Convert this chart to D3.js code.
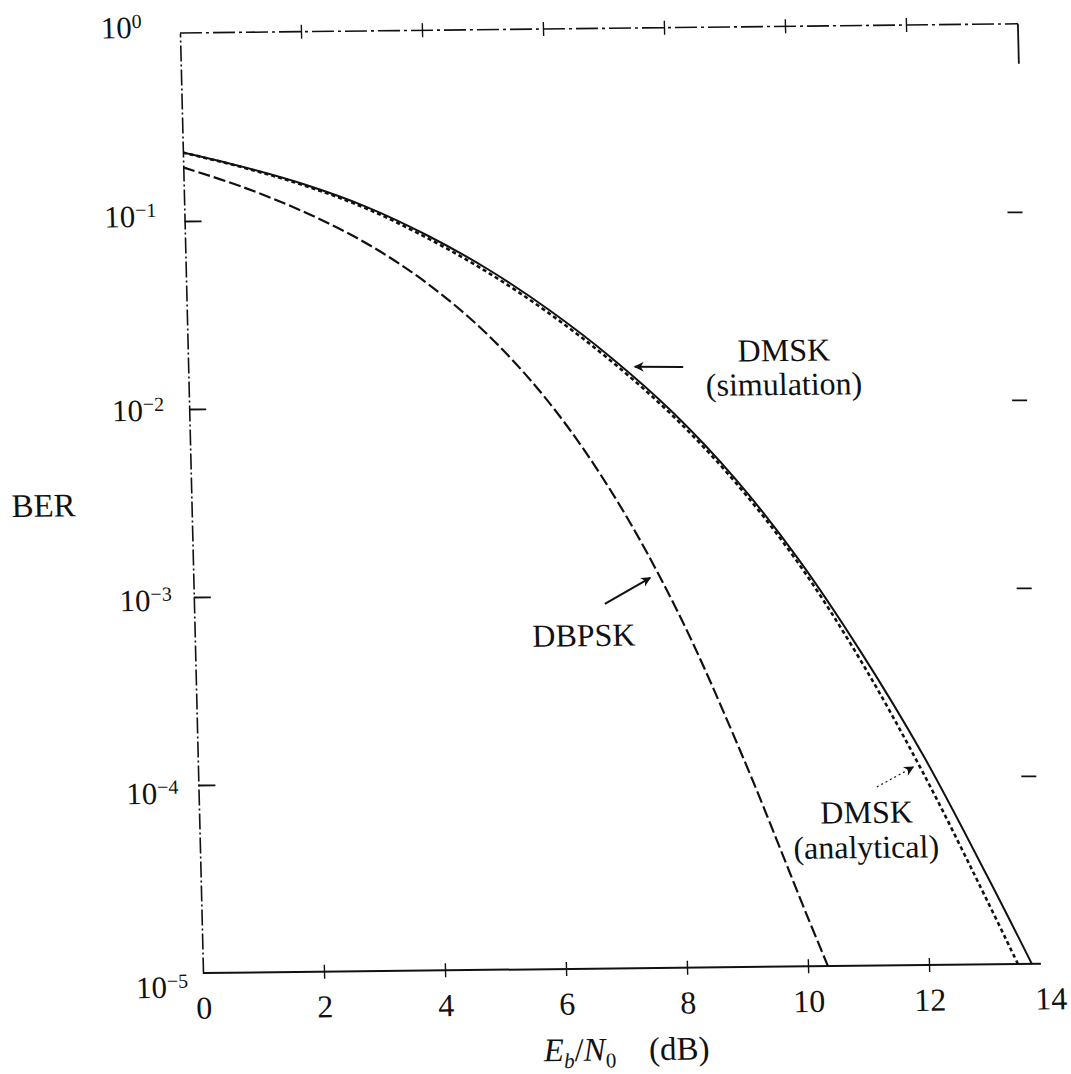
<!DOCTYPE html>
<html>
<head>
<meta charset="utf-8">
<script src="https://cdn.jsdelivr.net/npm/d3@7"></script>
<style>
  body { margin: 0; background: #fff; }
  text { font-family: "Liberation Serif", "DejaVu Serif", serif; fill: #111; }
</style>
</head>
<body>
<svg id="chart" width="1071" height="1074"></svg>
<script>
// values (BER vs Eb/N0 in dB)
var ebnoDbpsk = [0, 1, 2, 3, 4, 5, 6, 7, 8, 9, 10, 10.33];
var berDbpsk = [0.1928, 0.1493, 0.1091, 0.0741, 0.0447, 0.0232, 0.00982, 0.0032, 7.71e-4, 1.33e-4, 1.88e-5, 1.0e-5];

var ebnoDmskSim = [0, 1, 2, 3, 4, 5, 6, 7, 8, 9, 10, 11, 12, 13, 13.7];
var berDmskSim = [0.2312, 0.1919, 0.1538, 0.1164, 0.0813, 0.0530, 0.0318, 0.01766, 0.00893, 0.00394, 0.001476, 4.67e-4, 1.285e-4, 2.94e-5, 1.0e-5];

var ebnoDmskAna = [0, 1, 2, 3, 4, 5, 6, 7, 8, 9, 10, 11, 12, 13, 13.47];
var berDmskAna = [0.2312, 0.1905, 0.1517, 0.1140, 0.0787, 0.0509, 0.0305, 0.0169, 0.00855, 0.00377, 0.0014, 4.17e-4, 1.023e-4, 2.14e-5, 1.0e-5];

var xTicks = [0, 2, 4, 6, 8, 10, 12, 14];
var yTicks = [1e-5, 1e-4, 1e-3, 1e-2, 1e-1, 1];
var yTickExps = ["\u22125", "\u22124", "\u22123", "\u22122", "\u22121", "0"];

var noteText = ["DMSK", "(simulation)", "DBPSK", "DMSK", "(analytical)"];
var noteX = [9.85, 9.84, 6.43, 11.03, 11.01];
var noteBer = [0.0166, 0.01096, 5.2e-4, 5.74e-5, 3.74e-5];

// arrows: [fromX, fromBer, toX, toBer]
var arrows = [
  [8.18, 0.01567, 7.38, 0.01578],
  [6.79, 8.69e-4, 7.55, 1.19e-3],
  [11.21, 8.91e-5, 11.82, 1.132e-4]
];

// layout of the scanned page (it is a little skewed)
var settings = { frameRight: 13.85, width: 847, height: 940 };
var yLabelGap = [15, 20, 22, 25, 28, 38];
var yLabelDrop = [24, 18, 13, 11, 5, 4];

var svg = d3.select("#chart");
svg.append("rect").attr("width", 1071).attr("height", 1074).attr("fill", "#fff");

var g = svg.append("g").attr("transform", "matrix(1,-0.011,0.0245,1,203,973)");

var x = d3.scaleLinear().domain([0, 14]).range([0, settings.width]);
var y = d3.scaleLog().domain([1e-5, 1]).range([0, -settings.height]);

var defs = svg.append("defs");
defs.append("marker").attr("id", "head")
  .attr("viewBox", "0 0 10 10").attr("refX", 9).attr("refY", 5)
  .attr("markerWidth", 14).attr("markerHeight", 10).attr("markerUnits", "userSpaceOnUse")
  .attr("orient", "auto")
  .append("path").attr("d", "M0,0 L10,5 L0,10 L3,5 Z").attr("fill", "#111");
defs.append("clipPath").attr("id", "plotclip")
  .append("rect").attr("x", 0).attr("y", -settings.height - 20)
  .attr("width", x(settings.frameRight)).attr("height", settings.height + 20);

// left axis
var yAxis = d3.axisLeft(y).tickValues(yTicks).tickSize(-17).tickSizeOuter(0);
var yG = g.append("g").call(yAxis);
yG.select(".domain").attr("stroke", "#111").attr("stroke-width", 1.6).attr("stroke-dasharray", "16,3,2,3");
yG.selectAll(".tick line").attr("stroke", "#111").attr("stroke-width", 1.8)
  .filter(function(d) { return d === 1e-5 || d === 1; }).remove();
yG.selectAll(".tick text").each(function(d, i) {
  var t = d3.select(this).text(null)
    .attr("font-size", "31px")
    .attr("x", -yLabelGap[i])
    .attr("dy", null)
    .attr("y", yLabelDrop[i]);
  t.append("tspan").text("10");
  t.append("tspan").attr("dy", "-0.5em").attr("font-size", "20px").text(yTickExps[i]);
});

// bottom axis
var xAxis = d3.axisBottom(x).tickValues(xTicks).tickSize(7).tickSizeOuter(0).tickPadding(16);
var xG = g.append("g").call(xAxis);
xG.select(".domain").remove();
xG.selectAll(".tick line").attr("y1", -7).attr("stroke", "#111").attr("stroke-width", 1.4)
  .filter(function(d) { return d === 0 || d === 14; }).remove();
xG.selectAll(".tick text").attr("font-size", "32px");

// top and right ticks
var topG = g.append("g").attr("transform", "translate(0," + y(1) + ")")
  .call(d3.axisTop(x).tickValues([2, 4, 6, 8, 10, 12]).tickSize(7).tickFormat(""));
topG.select(".domain").remove();
topG.selectAll(".tick line").attr("y1", 7).attr("stroke", "#111").attr("stroke-width", 1.4);

var rightG = g.append("g").attr("transform", "translate(" + x(settings.frameRight) + ",0)")
  .call(d3.axisRight(y).tickValues([1e-4, 1e-3, 1e-2, 1e-1]).tickSize(-15).tickFormat(""));
rightG.select(".domain").remove();
rightG.selectAll(".tick line").attr("stroke", "#111").attr("stroke-width", 1.8);

g.append("line")
  .attr("x1", x(0)).attr("x2", x(settings.frameRight))
  .attr("y1", y(1e-5)).attr("y2", y(1e-5))
  .attr("stroke", "#111").attr("stroke-width", 2);
g.append("line")
  .attr("x1", x(0)).attr("x2", x(settings.frameRight))
  .attr("y1", y(1)).attr("y2", y(1))
  .attr("stroke", "#111").attr("stroke-width", 1.6).attr("stroke-dasharray", "22,4,3,4");
g.append("line")
  .attr("x1", x(settings.frameRight)).attr("x2", x(settings.frameRight))
  .attr("y1", y(1)).attr("y2", y(1) + 40)
  .attr("stroke", "#111").attr("stroke-width", 1.8);

// curves
var line = d3.line()
  .x(function(d) { return x(d[0]); })
  .y(function(d) { return y(d[1]); })
  .curve(d3.curveCatmullRom.alpha(0.5));

var curves = g.append("g").attr("clip-path", "url(#plotclip)").attr("fill", "none").attr("stroke", "#111");
curves.append("path")
  .attr("d", line(d3.zip(ebnoDbpsk, berDbpsk)))
  .attr("stroke-width", 2.2).attr("stroke-dasharray", "12,4");
curves.append("path")
  .attr("d", line(d3.zip(ebnoDmskAna, berDmskAna)))
  .attr("stroke-width", 2.6).attr("stroke-dasharray", "4,3");
curves.append("path")
  .attr("d", line(d3.zip(ebnoDmskSim, berDmskSim)))
  .attr("stroke-width", 2);

// annotations
g.selectAll(".note").data(noteText).enter().append("text")
  .attr("class", "note")
  .attr("x", function(d, i) { return x(noteX[i]); })
  .attr("y", function(d, i) { return y(noteBer[i]); })
  .attr("text-anchor", "middle")
  .attr("font-size", "32px")
  .text(function(d) { return d; });

g.selectAll(".arrow").data(arrows).enter().append("line")
  .attr("class", "arrow")
  .attr("x1", function(d) { return x(d[0]); })
  .attr("y1", function(d) { return y(d[1]); })
  .attr("x2", function(d) { return x(d[2]); })
  .attr("y2", function(d) { return y(d[3]); })
  .attr("stroke", "#111")
  .attr("stroke-width", function(d, i) { return i === 2 ? 1.2 : 2; })
  .attr("stroke-dasharray", function(d, i) { return i === 2 ? "2,3" : null; })
  .attr("marker-end", "url(#head)");

// axis titles
g.append("text")
  .attr("x", -148).attr("y", -458)
  .attr("text-anchor", "middle").attr("font-size", "33px")
  .text("BER");

var xt = g.append("text")
  .attr("x", x(6.97)).attr("y", 92)
  .attr("text-anchor", "middle").attr("font-size", "33px");
xt.append("tspan").attr("font-style", "italic").text("E");
xt.append("tspan").attr("font-style", "italic").attr("font-size", "21px").attr("dy", 7).text("b");
xt.append("tspan").attr("dy", -7).text("/");
xt.append("tspan").attr("font-style", "italic").text("N");
xt.append("tspan").attr("font-size", "21px").attr("dy", 7).text("0");
xt.append("tspan").attr("dy", -7).text("\u2003(dB)");
</script>
</body>
</html>
